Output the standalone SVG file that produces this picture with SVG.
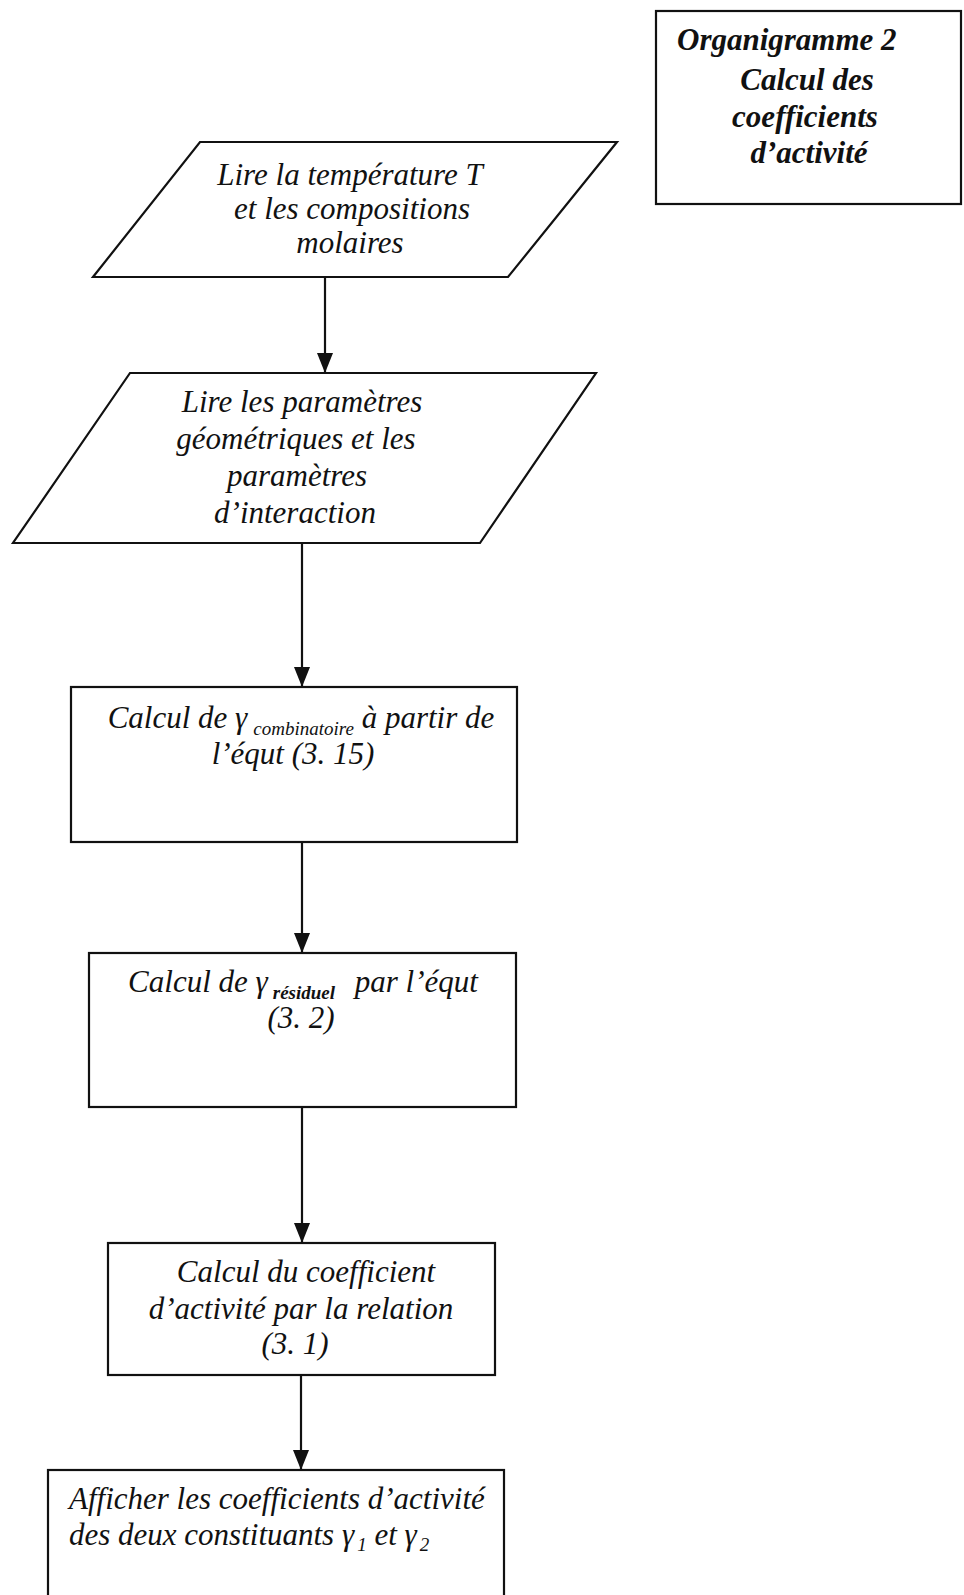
<svg xmlns="http://www.w3.org/2000/svg" width="964" height="1595" viewBox="0 0 964 1595">
<style>
.shape{fill:#ffffff;stroke:#111111;stroke-width:2.2}
.t{font-family:"Liberation Serif","Times New Roman",serif;font-style:italic;font-size:31px;fill:#111111}
.c{text-anchor:middle}
.title{font-family:"Liberation Serif","Times New Roman",serif;font-style:italic;font-weight:bold;font-size:31px;fill:#111111}
.sub{font-size:19px}
.edge{stroke:#111111;stroke-width:2.2;fill:none}
</style>
<defs>
<marker id="arr" markerUnits="userSpaceOnUse" markerWidth="20" markerHeight="16" refX="20" refY="8" orient="auto" viewBox="0 0 20 16">
<path d="M0,0 L20,8 L0,16 Z" fill="#111111"/>
</marker>
</defs>
<rect width="964" height="1595" fill="#ffffff"/>

<g id="title">
<rect class="shape" x="656" y="11" width="305" height="193"/>
<text class="title" x="677" y="50">Organigramme 2</text>
<text class="title c" x="807" y="90">Calcul des</text>
<text class="title c" x="805" y="127">coefficients</text>
<text class="title c" x="809" y="163">d’activité</text>
</g>

<g id="connectors">
<line class="edge" x1="325" y1="277" x2="325" y2="373" marker-end="url(#arr)"/>
<line class="edge" x1="302" y1="543" x2="302" y2="687" marker-end="url(#arr)"/>
<line class="edge" x1="302" y1="842" x2="302" y2="953" marker-end="url(#arr)"/>
<line class="edge" x1="302" y1="1107" x2="302" y2="1243" marker-end="url(#arr)"/>
<line class="edge" x1="301" y1="1375" x2="301" y2="1470" marker-end="url(#arr)"/>
</g>

<g id="n1">
<polygon class="shape" points="200,142 617,142 508,277 93,277"/>
<text class="t c" x="350" y="185">Lire la température T</text>
<text class="t c" x="352" y="219">et les compositions</text>
<text class="t c" x="350" y="253">molaires</text>
</g>

<g id="n2">
<polygon class="shape" points="130,373 596,373 480,543 13,543"/>
<text class="t c" x="302" y="412">Lire les paramètres</text>
<text class="t c" x="296" y="449">géométriques et les</text>
<text class="t c" x="297" y="486">paramètres</text>
<text class="t c" x="295" y="523">d’interaction</text>
</g>

<g id="n3">
<rect class="shape" x="71" y="687" width="446" height="155"/>
<text class="t c" x="301" y="728">Calcul de γ<tspan class="sub" dx="6" dy="7">combinatoire</tspan><tspan dx="0" dy="-7"> à partir de</tspan></text>
<text class="t c" x="293" y="764">l’équt (3. 15)</text>
</g>

<g id="n4">
<rect class="shape" x="89" y="953" width="427" height="154"/>
<text class="t c" x="303" y="992">Calcul de γ<tspan class="sub" font-weight="bold" dx="5" dy="7">résiduel</tspan><tspan dx="12" dy="-7"> par l’équt</tspan></text>
<text class="t c" x="301" y="1028">(3. 2)</text>
</g>

<g id="n5">
<rect class="shape" x="108" y="1243" width="387" height="132"/>
<text class="t c" x="306" y="1282">Calcul du coefficient</text>
<text class="t c" x="301" y="1319">d’activité par la relation</text>
<text class="t c" x="295" y="1354">(3. 1)</text>
</g>

<g id="n6">
<rect class="shape" x="48" y="1470" width="456" height="140"/>
<text class="t" x="69" y="1509">Afficher les coefficients d’activité</text>
<text class="t" x="69" y="1545">des deux constituants γ<tspan class="sub" dx="3" dy="6">1</tspan><tspan dy="-6"> et γ</tspan><tspan class="sub" dx="3" dy="6">2</tspan></text>
</g>
</svg>
